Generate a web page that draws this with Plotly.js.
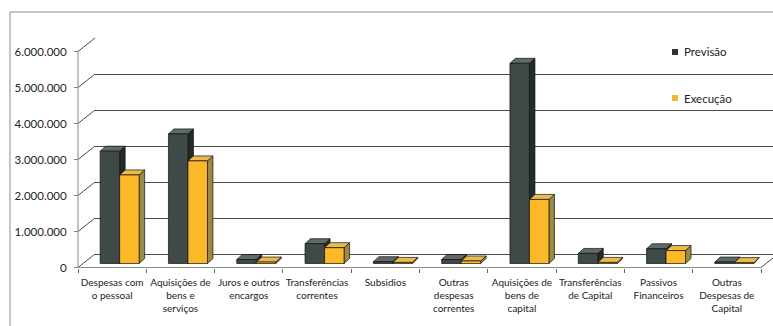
<!DOCTYPE html>
<html>
<head>
<meta charset="utf-8">
<script src="https://cdn.plot.ly/plotly-3.0.1.min.js"></script>
<style>
  html, body { margin: 0; padding: 0; background: #fff; }
  #chart { width: 773px; height: 326px; }
</style>
</head>
<body>
<div id="chart"></div>
<script>
// Budget by expense class: forecast (Previsão) vs. execution (Execução)
const categories = [
  'Despesas com<br>o pessoal',
  'Aquisições de<br>bens e<br>serviços',
  'Juros e outros<br>encargos',
  'Transferências<br>correntes',
  'Subsidios',
  'Outras<br>despesas<br>correntes',
  'Aquisições de<br>bens de<br>capital',
  'Transferências<br>de Capital',
  'Passivos<br>Financeiros',
  'Outras<br>Despesas de<br>Capital'
];
const previsao = [3120000, 3600000, 110000, 550000, 50000, 110000, 5560000, 280000, 410000, 40000];
const execucao = [2460000, 2850000, 40000, 440000, 30000, 70000, 1780000, 30000, 360000, 25000];
const yTickValues = [0, 1000000, 2000000, 3000000, 4000000, 5000000, 6000000];
const yTickLabels = ['0', '1.000.000', '2.000.000', '3.000.000', '4.000.000', '5.000.000', '6.000.000'];
const seriesNames = ['Previsão', 'Execução'];

// 3D-look colours per series: front, top and side faces
const palette = [
  { front: '#3f4948', top: '#5f6a69', side: '#232a29', key: '#2c3332' },
  { front: '#fbb829', top: '#e9bb4c', side: '#9a8a44', key: '#f6b530' }
];

// Page geometry (pixels)
const W = 773, H = 326;
const G = {
  frontL: 78, frontR: 761, front0: 267.5, frontTop: 51.5,
  wallDx: 17, wallDy: 13.5,
  barDx: 7.5, barDy: 4, barW: 19.5,
  depthDx: 5.5, depthDy: 5
};
const nCat = categories.length;
const yMax = yTickValues[yTickValues.length - 1];
const catPx = (G.frontR - G.frontL) / nCat;
const valPx = (G.front0 - G.frontTop) / yMax;
const cx = p => p / catPx;
const cy = p => p / valPx;

const padL = 4, padR = W - G.frontR, padB = 4, padT = 18;
const FONT = 'Lato, "Open Sans", sans-serif';
const GRID = '#4a4a4a';

// Build front/top/side polygons of the columns for one series
function columnFaces(values, shift) {
  const front = { x: [], y: [] }, top = { x: [], y: [] }, side = { x: [], y: [] };
  const w = cx(G.barW), ddx = cx(G.depthDx), ddy = cy(G.depthDy), b = cy(G.barDy);
  values.forEach((v, i) => {
    const x0 = i + shift, x1 = x0 + w, t = b + v;
    front.x.push(x0, x1, x1, x0, x0, null);
    front.y.push(b, b, t, t, b, null);
    top.x.push(x0, x1, x1 + ddx, x0 + ddx, x0, null);
    top.y.push(t, t, t + ddy, t + ddy, t, null);
    side.x.push(x1, x1 + ddx, x1 + ddx, x1, x1, null);
    side.y.push(b, b + ddy, t + ddy, t, b, null);
  });
  return { front, top, side };
}

function faceTrace(pts, color, name) {
  return {
    type: 'scatter', mode: 'lines', x: pts.x, y: pts.y,
    xaxis: 'x2', yaxis: 'y2', fill: 'toself', fillcolor: color,
    line: { color: '#111', width: 0.7 }, hoverinfo: 'skip',
    showlegend: false, name: name
  };
}

// Side wall, floor edges and the value axis line
const wall = { x: [], y: [] };
yTickValues.forEach(v => {
  wall.x.push(-0.5, -0.5 + cx(G.wallDx), null);
  wall.y.push(v, v + cy(G.wallDy), null);
});
wall.x.push(nCat - 0.5, nCat - 0.5 + cx(G.wallDx), null);
wall.y.push(0, cy(G.wallDy), null);

const axisEdges = { x: [-0.5, -0.5, null, -0.5, nCat - 0.5], y: [0, yMax, null, 0, 0] };

const traces = [
  // keeps the back-wall subplot alive so its gridlines are drawn
  { type: 'scatter', mode: 'markers', x: [0], y: [0], xaxis: 'x', yaxis: 'y',
    marker: { opacity: 0 }, hoverinfo: 'skip', showlegend: false },
  { type: 'scatter', mode: 'lines', x: wall.x, y: wall.y,
    xaxis: 'x2', yaxis: 'y2', line: { color: GRID, width: 1 },
    hoverinfo: 'skip', showlegend: false },
  { type: 'scatter', mode: 'lines', x: axisEdges.x, y: axisEdges.y,
    xaxis: 'x2', yaxis: 'y2', line: { color: '#8a8a8a', width: 1 },
    hoverinfo: 'skip', showlegend: false }
];

const seriesValues = [previsao, execucao];
const shifts = [cx(G.barDx) - cx(G.barW), cx(G.barDx)];
seriesValues.forEach((vals, s) => {
  const f = columnFaces(vals, shifts[s]);
  traces.push(faceTrace(f.side, palette[s].side, seriesNames[s]));
  traces.push(faceTrace(f.top, palette[s].top, seriesNames[s]));
  traces.push(faceTrace(f.front, palette[s].front, seriesNames[s]));
});

// Legend keys
const legendY = [52, 98];
const shapes = [{
  type: 'rect', xref: 'paper', yref: 'paper',
  x0: 10 / W, x1: 1.02, y0: -0.05, y1: 1 - 12 / H,
  line: { color: '#8c8c8c', width: 1 }, layer: 'below'
}];
const annotations = [];
seriesNames.forEach((name, s) => {
  shapes.push({
    type: 'rect', xref: 'paper', yref: 'paper',
    x0: 672 / W, x1: 678 / W, y0: 1 - (legendY[s] + 3) / H, y1: 1 - (legendY[s] - 3) / H,
    fillcolor: palette[s].key, line: { width: 0 }
  });
  annotations.push({
    xref: 'paper', yref: 'paper', x: 682 / W, y: 1 - legendY[s] / H,
    xanchor: 'left', yanchor: 'middle', showarrow: false, text: name,
    font: { family: FONT, size: 11.5, color: '#222' }
  });
});

const boundaries = categories.map((c, i) => i - 0.5).concat([nCat - 0.5]);

const layout = {
  width: W, height: H,
  margin: { l: 0, r: 0, t: 0, b: 0 },
  paper_bgcolor: '#fff', plot_bgcolor: 'rgba(0,0,0,0)',
  showlegend: false,
  font: { family: FONT, color: '#222' },
  // back wall with gridlines
  xaxis: {
    domain: [(G.frontL + G.wallDx) / W, 1],
    range: [-0.5, -0.5 + cx(W - G.frontL - G.wallDx)],
    showgrid: false, zeroline: false, showticklabels: false, ticks: '', showline: false, fixedrange: true
  },
  yaxis: {
    domain: [(H - G.front0 + G.wallDy) / H, (H - G.frontTop + G.wallDy) / H],
    range: [0, yMax],
    tickmode: 'array', tickvals: yTickValues,
    showgrid: true, gridcolor: GRID, gridwidth: 1,
    zeroline: true, zerolinecolor: GRID, zerolinewidth: 1,
    showticklabels: false, ticks: '', showline: false, fixedrange: true
  },
  // front plane: columns, category and value labels
  xaxis2: {
    domain: [(G.frontL - padL) / W, 1],
    range: [-0.5 - cx(padL), nCat - 0.5 + cx(padR)],
    anchor: 'free', position: (H - G.front0) / H,
    tickmode: 'array', tickvals: categories.map((c, i) => i), ticktext: categories,
    ticks: '', ticklabelstandoff: 7,
    tickfont: { family: FONT, size: 10, color: '#222' },
    minor: { tickmode: 'array', tickvals: boundaries, ticks: 'outside', ticklen: 4, tickcolor: '#666', tickwidth: 1, showgrid: false },
    showgrid: false, zeroline: false, showline: false, fixedrange: true
  },
  yaxis2: {
    domain: [(H - G.front0 - padB) / H, (H - G.frontTop + padT) / H],
    range: [-cy(padB), yMax + cy(padT)],
    anchor: 'free', position: G.frontL / W,
    tickmode: 'array', tickvals: yTickValues, ticktext: yTickLabels,
    ticks: 'outside', ticklen: 4, tickcolor: '#888', ticklabelstandoff: 5,
    tickfont: { family: FONT, size: 11.5, color: '#222' },
    showgrid: false, zeroline: false, showline: false, fixedrange: true
  },
  shapes: shapes,
  annotations: annotations
};

Plotly.newPlot('chart', traces, layout, { displayModeBar: false, staticPlot: true });
</script>
</body>
</html>
